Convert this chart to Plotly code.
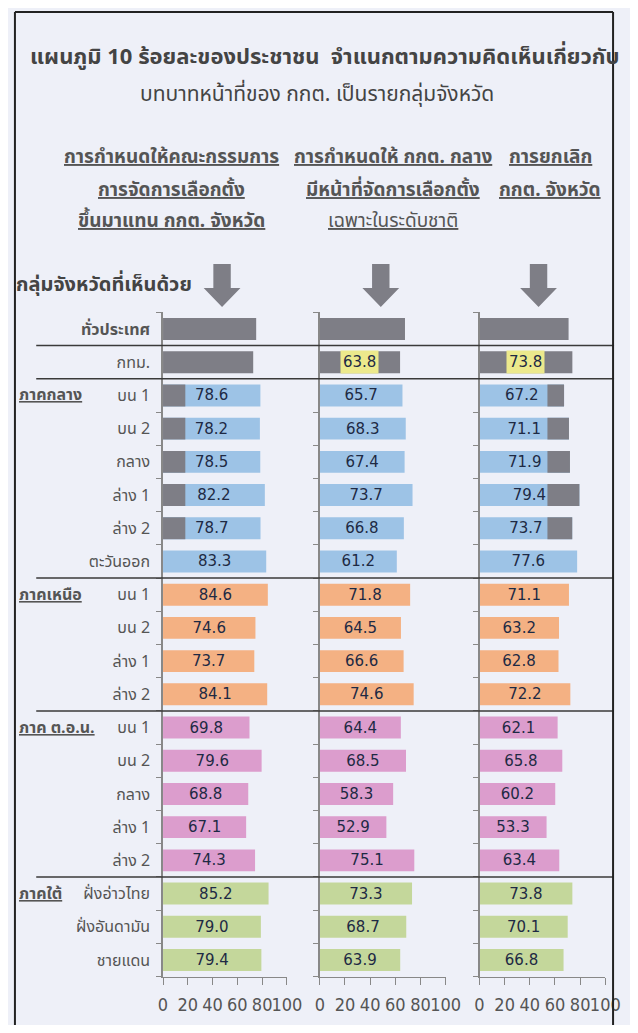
import plotly.graph_objects as go
from plotly.subplots import make_subplots

# the page body adds an 8px margin all round; size the figure so the page fits the window
OFF = 8
W, H = 638 - 2 * OFF, 1033 - 2 * OFF

# row labels (top to bottom)
row_labels = ["<b>ทั่วประเทศ</b>", "กทม.",
              "บน 1", "บน 2", "กลาง", "ล่าง 1", "ล่าง 2", "ตะวันออก",
              "บน 1", "บน 2", "ล่าง 1", "ล่าง 2",
              "บน 1", "บน 2", "กลาง", "ล่าง 1", "ล่าง 2",
              "ฝั่งอ่าวไทย", "ฝั่งอันดามัน", "ชายแดน"]
row_region = ["all", "bkk"] + ["c"] * 6 + ["n"] * 4 + ["ne"] * 5 + ["s"] * 3
region_names = {2: "ภาคกลาง", 8: "ภาคเหนือ", 12: "ภาค ต.อ.น.", 17: "ภาคใต้"}

# % agreeing, three proposals
committee = [75.2, 72.8, 78.6, 78.2, 78.5, 82.2, 78.7, 83.3, 84.6, 74.6, 73.7, 84.1,
             69.8, 79.6, 68.8, 67.1, 74.3, 85.2, 79.0, 79.4]
central_ect = [67.7, 63.8, 65.7, 68.3, 67.4, 73.7, 66.8, 61.2, 71.8, 64.5, 66.6, 74.6,
               64.4, 68.5, 58.3, 52.9, 75.1, 73.3, 68.7, 63.9]
abolish = [70.8, 73.8, 67.2, 71.1, 71.9, 79.4, 73.7, 77.6, 71.1, 63.2, 62.8, 72.2,
           62.1, 65.8, 60.2, 53.3, 63.4, 73.8, 70.1, 66.8]

# grey blocks covering parts of the bars in the scan (start, end)
cover1 = [None, None] + [(0, 18)] * 5 + [None] * 13
cover3 = [None, None] + [(54, v) for v in abolish[2:7]] + [None] * 13

headers = [["<b>การกำหนดให้คณะกรรมการ</b>", "<b>การจัดการเลือกตั้ง</b>", "<b>ขึ้นมาแทน กกต. จังหวัด</b>"],
           ["<b>การกำหนดให้ กกต. กลาง</b>", "<b>มีหน้าที่จัดการเลือกตั้ง</b>", "เฉพาะในระดับชาติ"],
           ["<b>การยกเลิก</b>", "<b>กกต. จังหวัด</b>"]]

colors = {"all": "#7e7e86", "bkk": "#7e7e86", "c": "#9dc3e6", "n": "#f4b183",
          "ne": "#dc9dcd", "s": "#c4d79b"}
GREY = "#7e7e86"
BG = "#eef0f8"
FONT = "Noto Sans Thai, Tahoma, DejaVu Sans, sans-serif"
NUMFONT = "Tahoma, DejaVu Sans, sans-serif"


def px(x, y):
    return (x - OFF) / W, 1 - (y - OFF) / H


ypos = list(range(len(row_labels)))
fig = make_subplots(rows=1, cols=3, shared_yaxes=True)

for c, vals in enumerate([committee, central_ect, abolish], start=1):
    txt = ["" if row_region[i] in ("all", "bkk") else f"{v:.1f}" for i, v in enumerate(vals)]
    fig.add_trace(go.Bar(y=ypos, x=vals, orientation="h", width=0.66,
                         marker=dict(color=[colors[r] for r in row_region], line=dict(width=0)),
                         text=txt, textposition="inside", insidetextanchor="middle",
                         constraintext="none",
                         textfont=dict(family=NUMFONT, size=15, color="#1e2a44"),
                         hoverinfo="skip"), row=1, col=c)
    cover = cover1 if c == 1 else cover3 if c == 3 else None
    if cover:
        fig.add_trace(go.Bar(y=[i for i in ypos if cover[i]],
                             base=[cover[i][0] for i in ypos if cover[i]],
                             x=[cover[i][1] - cover[i][0] for i in ypos if cover[i]],
                             orientation="h", width=0.66, marker=dict(color=GREY, line=dict(width=0)),
                             hoverinfo="skip"), row=1, col=c)

    # yellow label boxes for Bangkok
    if c > 1:
        fig.add_annotation(x=vals[1] / 2, y=1, xref=f"x{c}", yref=f"y{c}", text=f"{vals[1]:.1f}",
                           showarrow=False, bgcolor="#ece98c", borderpad=2,
                           xanchor="center", yanchor="middle",
                           font=dict(family=NUMFONT, size=15, color="#1e2a44"))

domains = [(163, 291), (325, 455), (490, 620)]
ydom = [px(0, 976.6)[1], px(0, 312.4)[1]]
for c, (a, b) in enumerate(domains, start=1):
    fig.update_xaxes(domain=[px(a, 0)[0], px(b, 0)[0]], range=[0, 100],
                     tickvals=[0, 20, 40, 60, 80, 100], tickangle=0,
                     ticks="outside", ticklen=7, tickcolor="#888", showline=True, linecolor="#888",
                     linewidth=1.2, showgrid=False, zeroline=False, ticklabelstandoff=5,
                     tickfont=dict(family="Liberation Sans Narrow, DejaVu Sans Condensed, Roboto, sans-serif",
                                   size=18, color="#555"), row=1, col=c)
    fig.update_yaxes(domain=ydom, range=[19.5, -0.5], tickvals=ypos, ticktext=row_labels,
                     showticklabels=(c == 1), ticks="", showline=True, linecolor="#888",
                     linewidth=1.5, showgrid=False, zeroline=False, ticklabelstandoff=8,
                     minor=dict(tick0=0.5, dtick=1, ticks="outside", ticklen=5, tickcolor="#888"),
                     tickfont=dict(family=FONT, size=16, color="#555"), row=1, col=c)

# region names
for i, name in region_names.items():
    fig.add_annotation(x=px(12, 0)[0], y=i, xref="paper", yref="y", xanchor="left",
                       yanchor="middle", showarrow=False,
                       text=f"<u><b>{name}</b></u>", font=dict(family=FONT, size=16, color="#555"))

# separator lines between groups
for b in [0.5, 1.5, 7.5, 11.5, 16.5]:
    fig.add_shape(type="line", xref="paper", yref="y", x0=px(32, 0)[0], x1=px(629, 0)[0],
                  y0=b, y1=b, line=dict(color="#3a3a3a", width=1.5))


def label(x, y, text, size, color="#444", anchor="center"):
    ax, ay = px(x, y)
    fig.add_annotation(x=ax, y=ay, xref="paper", yref="paper", showarrow=False,
                       xanchor=anchor, yanchor="middle", text=text,
                       font=dict(family=FONT, size=size, color=color))


# title
label(330, 58, "<b>แผนภูมิ 10 ร้อยละของประชาชน  จำแนกตามความคิดเห็นเกี่ยวกับ</b>", 22)
label(322, 95, "บทบาทหน้าที่ของ กกต. เป็นรายกลุ่มจังหวัด", 21)

# column headers
hx = [172, 401, 563]
for k, lines in enumerate(headers):
    for j, line in enumerate(lines):
        label(hx[k], 158 + 32 * j, f"<u>{line}</u>", 19, color="#555")

label(9, 285, "<b>กลุ่มจังหวัดที่เห็นด้วย</b>", 20, anchor="left")

# down arrows
for cx in [224, 388, 551]:
    pts = [(cx - 9, 264), (cx + 9, 264), (cx + 9, 288), (cx + 19, 288), (cx, 307),
           (cx - 19, 288), (cx - 9, 288)]
    path = "M " + " L ".join(f"{px(a, b)[0]},{px(a, b)[1]}" for a, b in pts) + " Z"
    fig.add_shape(type="path", xref="paper", yref="paper", path=path,
                  fillcolor=GREY, line=dict(width=0))

# frame
for (a, b), (c2, d) in [((10, 12), (628, 12)), ((10, 12), (10, 1030)), ((628, 12), (628, 1030))]:
    x0, y0 = px(a, b)
    x1, y1 = px(c2, d)
    fig.add_shape(type="line", xref="paper", yref="paper", x0=x0, y0=y0, x1=x1, y1=y1,
                  line=dict(color="#222", width=2))

fig.update_layout(width=W, height=H, margin=dict(l=0, r=0, t=0, b=0), barmode="overlay",
                  showlegend=False, paper_bgcolor=BG, plot_bgcolor=BG, bargap=0.34)

fig.write_html("out.html")
